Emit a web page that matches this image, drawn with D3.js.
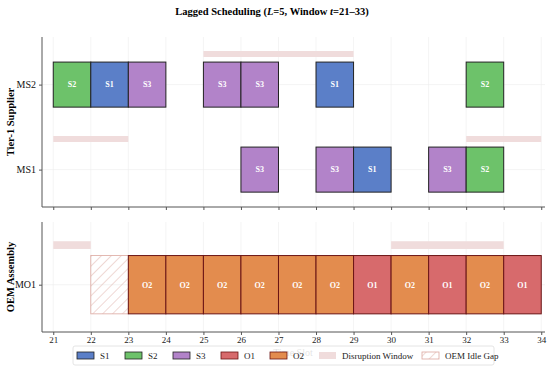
<!DOCTYPE html>
<html>
<head>
<meta charset="utf-8">
<script src="https://cdn.jsdelivr.net/npm/d3@7"></script>
<style>
  body { margin: 0; background: #fff; }
  svg text { font-family: "Liberation Serif", "Times New Roman", serif !important; }
</style>
</head>
<body>
<div id="chart"></div>
<script>
// ---- data ----
const supplierMachines = ["MS1", "MS2"];
const oemMachines = ["MO1"];
const timeTicks = [21, 22, 23, 24, 25, 26, 27, 28, 29, 30, 31, 32, 33, 34];

// supplier jobs: [machine, start slot, job]
const supplierJobs = [
  ["MS2", 21, "S2"], ["MS2", 22, "S1"], ["MS2", 23, "S3"],
  ["MS2", 25, "S3"], ["MS2", 26, "S3"], ["MS2", 28, "S1"], ["MS2", 32, "S2"],
  ["MS1", 26, "S3"], ["MS1", 28, "S3"], ["MS1", 29, "S1"],
  ["MS1", 31, "S3"], ["MS1", 32, "S2"]
];
const oemJobs = [
  ["MO1", 23, "O2"], ["MO1", 24, "O2"], ["MO1", 25, "O2"], ["MO1", 26, "O2"],
  ["MO1", 27, "O2"], ["MO1", 28, "O2"], ["MO1", 29, "O1"], ["MO1", 30, "O2"],
  ["MO1", 31, "O1"], ["MO1", 32, "O2"], ["MO1", 33, "O1"]
];
const idleGaps = [["MO1", 22, 23]];
// disruption windows: [machine, from, to]
const disruptions = [
  ["MS2", 25, 29], ["MS1", 21, 23], ["MS1", 32, 34],
  ["MO1", 21, 22], ["MO1", 30, 33]
];

const jobColor = { S1: "#5b7fc8", S2: "#6dc26a", S3: "#b283c9", O1: "#d76a6c", O2: "#e38c4e" };
const jobEdge = { S1: "#222", S2: "#222", S3: "#222", O1: "#6b1515", O2: "#6b1515" };
const bandColor = "#f0dcdc";
const hatchColor = "#dca8a0";

const W = 550, H = 369;
const svg = d3.select("#chart").append("svg")
  .attr("width", W).attr("height", H);

const defs = svg.append("defs");
defs.append("pattern")
  .attr("id", "hatch")
  .attr("patternUnits", "userSpaceOnUse")
  .attr("width", 7).attr("height", 7)
  .attr("patternTransform", "rotate(45)")
  .append("line")
  .attr("x1", 0).attr("y1", 0).attr("x2", 0).attr("y2", 7)
  .attr("stroke", hatchColor).attr("stroke-width", 0.9);

const x = d3.scaleLinear().domain([20.7, 34.1]).range([42, 545]);

const barH = 0.53, bandOff = 0.36, bandH = 0.07;

function panel({ top, bottom, machines, yDomain, label, jobs, showX }) {
  const y = d3.scaleLinear().domain(yDomain).range([bottom, top]);
  const idx = m => machines.indexOf(m);
  const g = svg.append("g");

  // grid
  g.append("g").selectAll("line").data(timeTicks).join("line")
    .attr("x1", d => x(d)).attr("x2", d => x(d))
    .attr("y1", top).attr("y2", bottom)
    .attr("stroke", "#ececec").attr("stroke-width", 0.6);
  g.append("g").selectAll("line").data(machines).join("line")
    .attr("x1", x.range()[0]).attr("x2", x.range()[1])
    .attr("y1", d => y(idx(d))).attr("y2", d => y(idx(d)))
    .attr("stroke", "#ececec").attr("stroke-width", 0.6);

  // disruption bands
  g.append("g").selectAll("rect")
    .data(disruptions.filter(d => machines.includes(d[0])))
    .join("rect")
    .attr("x", d => x(d[1]))
    .attr("width", d => x(d[2]) - x(d[1]))
    .attr("y", d => y(idx(d[0]) + bandOff + bandH / 2))
    .attr("height", d => y(0) - y(bandH))
    .attr("fill", bandColor);

  // idle gaps
  g.append("g").selectAll("rect")
    .data(idleGaps.filter(d => machines.includes(d[0])))
    .join("rect")
    .attr("x", d => x(d[1]))
    .attr("width", d => x(d[2]) - x(d[1]))
    .attr("y", d => y(idx(d[0]) + barH / 2))
    .attr("height", d => y(0) - y(barH))
    .attr("fill", "url(#hatch)")
    .attr("stroke", hatchColor).attr("stroke-width", 0.8);

  // jobs
  const jg = g.append("g").selectAll("g").data(jobs).join("g");
  jg.append("rect")
    .attr("x", d => x(d[1]))
    .attr("width", d => x(d[1] + 1) - x(d[1]))
    .attr("y", d => y(idx(d[0]) + barH / 2))
    .attr("height", d => y(0) - y(barH))
    .attr("fill", d => jobColor[d[2]])
    .attr("stroke", d => jobEdge[d[2]]).attr("stroke-width", 1);
  jg.append("text")
    .attr("x", d => x(d[1] + 0.5))
    .attr("y", d => y(idx(d[0])))
    .attr("dy", "0.35em")
    .attr("text-anchor", "middle")
    .attr("fill", "#fff").attr("font-weight", "bold")
    .attr("font-size", 8)
    .text(d => d[2]);

  // axes
  const yAxis = g.append("g")
    .attr("transform", `translate(${x.range()[0]},0)`)
    .call(d3.axisLeft(y).tickValues(machines.map((m, i) => i))
      .tickFormat(i => machines[i]).tickSize(3).tickPadding(3));
  yAxis.select(".domain").attr("d", `M0,${top}V${bottom}`).attr("stroke", "#555");
  yAxis.selectAll("text").attr("font-size", 10).attr("fill", "#111");
  yAxis.selectAll(".tick line").attr("stroke", "#555");

  const xAxis = g.append("g")
    .attr("transform", `translate(0,${bottom})`)
    .call(d3.axisBottom(x).tickValues(timeTicks).tickFormat(showX ? d3.format("d") : "")
      .tickSize(3).tickPadding(2));
  xAxis.select(".domain").attr("d", `M${x.range()[0]},0H${x.range()[1]}`).attr("stroke", "#555");
  xAxis.selectAll("text").attr("font-size", 9).attr("fill", "#222");
  xAxis.selectAll(".tick line").attr("stroke", "#555");

  svg.append("text")
    .attr("transform", `translate(14,${(top + bottom) / 2}) rotate(-90)`)
    .attr("text-anchor", "middle")
    .attr("font-weight", "bold").attr("font-size", 10.5)
    .text(label);
}

panel({ top: 37, bottom: 207, machines: supplierMachines, yDomain: [-0.44, 1.56],
  label: "Tier-1 Supplier", jobs: supplierJobs, showX: false });
panel({ top: 222, bottom: 332, machines: oemMachines, yDomain: [-0.43, 0.57],
  label: "OEM Assembly", jobs: oemJobs, showX: true });

// title
const title = svg.append("text")
  .attr("x", 272).attr("y", 15)
  .attr("text-anchor", "middle")
  .attr("font-weight", "bold").attr("font-size", 10.5);
title.append("tspan").text("Lagged Scheduling (");
title.append("tspan").attr("font-style", "italic").text("L");
title.append("tspan").text("=5, Window ");
title.append("tspan").attr("font-style", "italic").text("t");
title.append("tspan").text("=21\u201333)");

// x label (partly under legend)
svg.append("text")
  .attr("x", 293).attr("y", 356)
  .attr("text-anchor", "middle").attr("font-size", 10).attr("fill", "#444")
  .text("Time Slot");

// legend
const legendItems = [
  { label: "S1", type: "job", key: "S1" },
  { label: "S2", type: "job", key: "S2" },
  { label: "S3", type: "job", key: "S3" },
  { label: "O1", type: "job", key: "O1" },
  { label: "O2", type: "job", key: "O2" },
  { label: "Disruption Window", type: "band" },
  { label: "OEM Idle Gap", type: "idle" }
];
const legendX = [77, 125, 173, 221, 270, 319, 422];

const lg = svg.append("g");
lg.append("rect")
  .attr("x", 73).attr("y", 346).attr("width", 421).attr("height", 19)
  .attr("rx", 2)
  .attr("fill", "#fff").attr("fill-opacity", 0.85)
  .attr("stroke", "#ddd").attr("stroke-width", 0.8);

const li = lg.selectAll("g.item").data(legendItems).join("g")
  .attr("class", "item")
  .attr("transform", (d, i) => `translate(${legendX[i]},355.5)`);
li.append("rect")
  .attr("x", 0).attr("y", -3.5).attr("width", 17).attr("height", 7)
  .attr("fill", d => d.type === "job" ? jobColor[d.key] : d.type === "band" ? bandColor : "url(#hatch)")
  .attr("stroke", d => d.type === "job" ? jobEdge[d.key] : d.type === "idle" ? hatchColor : "none")
  .attr("stroke-width", 0.8);
li.append("text")
  .attr("x", 23).attr("dy", "0.35em")
  .attr("font-size", 9).attr("fill", "#222")
  .text(d => d.label);
</script>
</body>
</html>
